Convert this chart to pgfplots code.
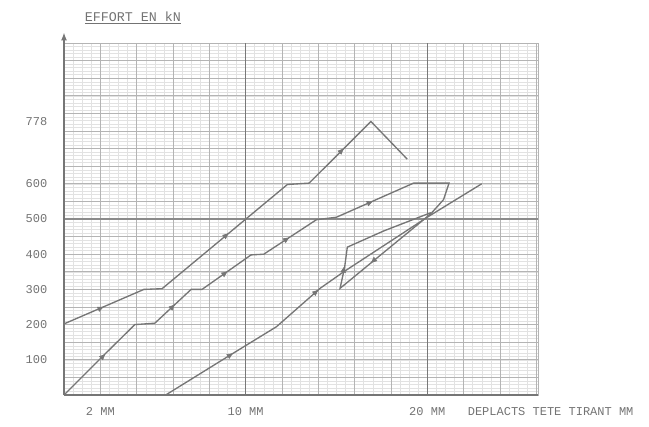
\documentclass[border=0pt]{standalone}
\usepackage{pgfplots}
\pgfplotsset{compat=1.18}
\usepackage{pgfplotstable}
\usepackage{fontspec}
\setmonofont{Liberation Mono}
\usetikzlibrary{arrows.meta}
\definecolor{ink}{RGB}{118,118,118}
\definecolor{txt}{RGB}{115,115,115}
\definecolor{gmaj}{RGB}{180,180,180}
\definecolor{gmin}{RGB}{226,226,226}
\definecolor{gthick}{RGB}{120,120,120}
\newcommand{\lbl}{\fontsize{9}{10}\selectfont\ttfamily}

\pgfplotstableread{
x y
0 202
4.4 300
5.4 302
12.3 598
13.5 602
16.9 777
18.9 670
}\curveA

\pgfplotstableread{
x y
0 0
2.17 112
3.9 200
5.0 204
7.0 300
7.6 300
10.3 398
11.0 400
13.9 498
15.0 505
19.25 602
21.2 602
20.9 555
20.2 515
15.2 303
15.45 362
15.6 420
17.6 466
20.2 518
}\curveB

\pgfplotstableread{
x y
5.6 0
9.2 115
11.7 194
14.1 303
15.4 350
20.0 505
23.0 600
}\curveC

\pgfplotstableread{
x y u v
2.08 248 0.1 2.23
8.96 455 0.1 4.29
15.3 695 0.1 5.15
2.17 111 0.1 5.13
6.0 252 0.1 4.8
8.9 347 0.1 3.63
12.3 444 0.1 3.38
16.9 548 0.1 2.28
15.42 362 0.01 2.92
17.0 380 -0.1 -4.24
9.2 115 0.1 3.18
13.9 294 0.1 4.5
}\arrowsT

\begin{document}
\begin{tikzpicture}
\path[use as bounding box] (0pt,0pt) rectangle (486.75pt,319.5pt);
\begin{axis}[
  at={(48pt,23.25pt)}, anchor=south west,
  scale only axis, width=355.5pt, height=264pt,
  xmin=0, xmax=26.1, ymin=0, ymax=1000,
  axis line style={draw=gmaj, line width=0.5pt},
  xtick={2,10,20}, xticklabels={2 MM,10 MM,20 MM},
  ytick={100,200,300,400,500,600,778},
  yticklabels={100,200,300,400,500,600,778},
  major tick length=0pt, minor tick length=0pt,
  minor xtick={0,0.5,...,26},
  minor ytick={0,10,...,1000},
  xminorgrids=true, yminorgrids=true,
  minor grid style={draw=gmin, line width=0.3pt},
  extra x ticks={0,2,...,26}, extra y ticks={0,50,...,1000},
  extra x tick labels={}, extra y tick labels={},
  extra tick style={grid=major, major grid style={draw=gmaj, line width=0.55pt}},
  tick label style={font=\lbl, text=txt},
  yticklabel style={xshift=-9pt},
  xticklabel style={yshift=-6pt},
  xlabel={DEPLACTS TETE TIRANT MM},
  xlabel style={at={(axis description cs:0.842,0)}, anchor=north west, font=\lbl, text=txt, yshift=-6pt},
  title={\underline{EFFORT EN kN}},
  every axis title shift=0pt,
  title style={at={(axis description cs:0.034,1.062)}, anchor=base west, yshift=0pt, font=\fontsize{10}{12}\selectfont\ttfamily, text=txt},
  clip=false,
]
\draw[gthick, line width=0.9pt] (axis cs:10,0) -- (axis cs:10,1000);
\draw[gthick, line width=0.9pt] (axis cs:20,0) -- (axis cs:20,1000);
\draw[gthick!85, line width=0.8pt] (axis cs:0,500) -- (axis cs:26.1,500);
\draw[ink, line width=1pt] (rel axis cs:0,0) -- (rel axis cs:1,0);
\draw[ink, line width=1pt, -{Latex[length=6pt,width=4.5pt]}] (rel axis cs:0,0) -- (rel axis cs:0,1.03);
\addplot[ink, line width=1pt] table[x=x,y=y] {\curveA};
\addplot[ink, line width=1pt] table[x=x,y=y] {\curveB};
\addplot[ink, line width=1pt] table[x=x,y=y] {\curveC};
\addplot[ink, line width=0.5pt, quiver={u=\thisrow{u}, v=\thisrow{v}}, -{Triangle[length=4.5pt,width=4pt]}] table[x=x,y=y] {\arrowsT};
\end{axis}
\end{tikzpicture}
\end{document}
